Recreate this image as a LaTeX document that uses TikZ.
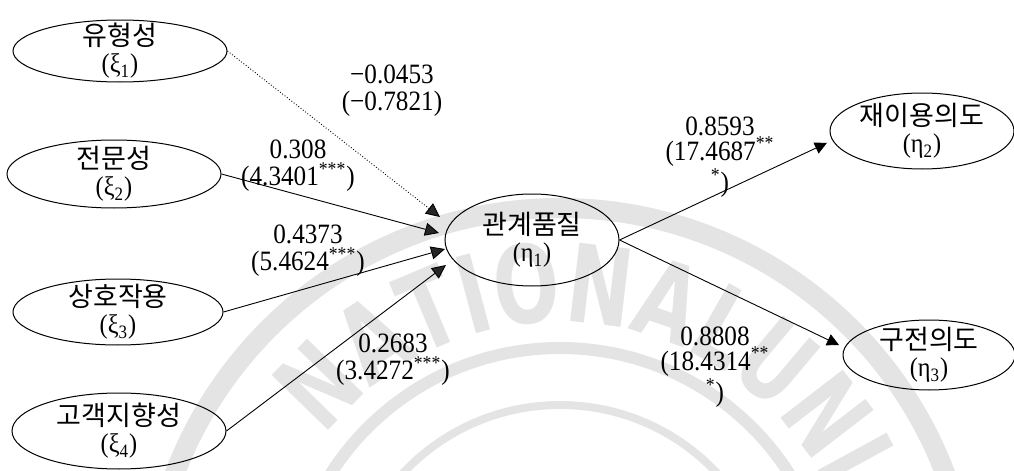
\documentclass[tikz,border=0pt]{standalone}
\usepackage{fontspec}
\setmainfont{Liberation Serif}[FakeStretch=0.9]
\newfontfamily\kr{Noto Sans CJK KR}
\newfontfamily\wmfont{DejaVu Sans}[FakeStretch=0.72]
\usetikzlibrary{arrows.meta,calc,shapes.geometric,decorations.text}
\definecolor{wmgray}{RGB}{228,228,228}
\begin{document}
\begin{tikzpicture}[x=0.5pt,y=-0.5pt,
  lat/.style={ellipse, draw, line width=0.5pt, inner xsep=0pt, inner ysep=-8pt, align=center,
    font=\fontsize{13.5}{13.5}\selectfont},
  coef/.style={align=center, inner sep=0pt, font=\fontsize{14}{13.5}\selectfont},
  coefb/.style={align=center, inner sep=0pt, font=\fontsize{14}{12.5}\selectfont},
  inarrow/.style={line width=0.45pt, -{Triangle[length=7pt,width=6.5pt,fill=black!85]}},
  outarrow/.style={line width=0.45pt, shorten >=3pt, -{Triangle[length=6pt,width=6pt]}},
  wm/.style={draw=wmgray},
  wmtext/.style={decorate, decoration={text along path,
    text={|\fontsize{54}{54}\selectfont\wmfont\bfseries\color{wmgray}|#1}}}
]
\useasboundingbox (0,0) rectangle (1014,471);
% watermark
\begin{scope}
\clip (0,0) rectangle (1014,471);
\draw[wm, line width=10pt] (560,620) circle[radius=412];
\draw[wm, line width=6pt] (560,620) circle[radius=272];
\draw[wm, line width=4pt] (560,620) circle[radius=215];
\path[wmtext={NATIONAL}] (560,620) ++(-142:298) arc[start angle=-142, end angle=-55, radius=298];
\path[wmtext={UNI}] (560,620) ++(-56:298) arc[start angle=-56, end angle=-10, radius=298];
\end{scope}
% latent variables
\node[lat, minimum width=107pt, minimum height=31pt] (x1) at (120,51) {{\kr 유형성}\\(ξ\textsubscript{1})};
\node[lat, minimum width=107pt, minimum height=34pt] (x2) at (114,174) {{\kr 전문성}\\(ξ\textsubscript{2})};
\node[lat, minimum width=105pt, minimum height=33pt] (x3) at (118,312) {{\kr 상호작용}\\(ξ\textsubscript{3})};
\node[lat, minimum width=107pt, minimum height=38pt] (x4) at (119,431) {{\kr 고객지향성}\\(ξ\textsubscript{4})};
\node[lat, minimum width=87pt, minimum height=46pt] (rq) at (532,240) {{\kr 관계품질}\\(η\textsubscript{1})};
\node[lat, minimum width=92pt, minimum height=38pt] (ri) at (922,131) {{\kr 재이용의도}\\(η\textsubscript{2})};
\node[lat, minimum width=86pt, minimum height=35pt] (rw) at (929,355) {{\kr 구전의도}\\(η\textsubscript{3})};
% arrow end points near the relationship-quality node
\coordinate (in1) at ($(rq.center)+(-92,-23)$);
\coordinate (in2) at ($(rq.center)+(-93,-7)$);
\coordinate (in3) at ($(rq.center)+(-87,9)$);
\coordinate (in4) at ($(rq.center)+(-86,25)$);
% paths
\draw[inarrow, densely dotted] (x1.east) -- (in1);
\draw[inarrow] (x2.east) -- (in2);
\draw[inarrow] (x3.east) -- (in3);
\draw[inarrow] (x4.east) -- (in4);
\draw[outarrow] (rq.east) -- (ri.186);
\draw[outarrow] (rq.east) -- (rw.175);
% coefficients
\node[coef] (c1) at (392,91) {−0.0453\\(−0.7821)};
\node[coef] (c2) at (298,166) {0.308\\(4.3401\textsuperscript{***})};
\node[coef] (c3) at (308,251) {0.4373\\(5.4624\textsuperscript{***})};
\node[coef] (c4) at (393,360) {0.2683\\(3.4272\textsuperscript{***})};
\node[coefb] (c5) at (720,157) {0.8593\\(17.4687\textsuperscript{**}\\\textsuperscript{*})};
\node[coefb] (c6) at (715,367) {0.8808\\(18.4314\textsuperscript{**}\\\textsuperscript{*})};
\end{tikzpicture}
\end{document}
